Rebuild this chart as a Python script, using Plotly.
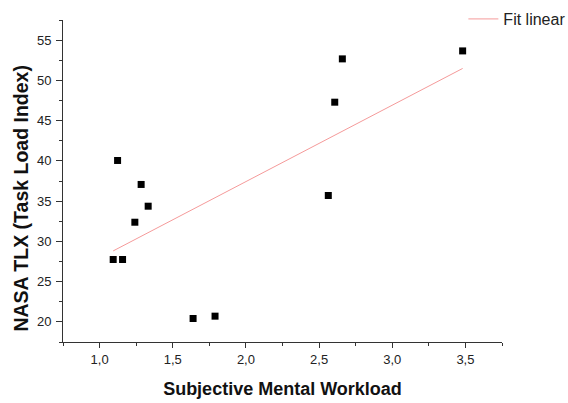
import numpy as np
import plotly.graph_objects as go

# Subjective mental workload vs. NASA TLX scores
workload = [1.093, 1.157, 1.123, 1.284, 1.332, 1.241, 1.639, 1.789, 2.563, 2.607, 2.659, 3.481]
tlx = [27.75, 27.75, 40.05, 37.07, 34.37, 32.38, 20.42, 20.71, 35.70, 47.29, 52.67, 53.66]

# Least-squares linear fit over the observed range
slope, intercept = np.polyfit(workload, tlx, 1)
fit_x = np.array([min(workload), max(workload)])
fit_y = slope * fit_x + intercept

fig = go.Figure()
fig.add_trace(go.Scatter(
    x=workload, y=tlx, mode="markers",
    marker=dict(symbol="square", size=7, color="black"),
    showlegend=False,
))
fig.add_trace(go.Scatter(
    x=fit_x, y=fit_y, mode="lines",
    line=dict(color="#f59a9a", width=1),
    name="Fit linear",
))

family = "Liberation Sans, Arial, sans-serif"
axis_font = dict(family=family, size=13, color="#222")

fig.update_layout(
    width=568, height=403,
    margin=dict(l=63, r=66, t=20, b=61, autoexpand=False),
    plot_bgcolor="white", paper_bgcolor="white",
    separators=",.",
    legend=dict(
        x=0.912, xanchor="left",
        yref="container", y=0.995, yanchor="top",
        bgcolor="rgba(0,0,0,0)",
        font=dict(family=family, size=16, color="#222"),
    ),
    xaxis=dict(
        range=[0.75, 3.75], showgrid=False, zeroline=False,
        showline=True, linecolor="#333", linewidth=1,
        ticks="outside", ticklen=5, tickcolor="#333",
        tick0=1.0, dtick=0.5, tickformat=".1f", tickfont=axis_font,
        minor=dict(ticks="outside", ticklen=3, tickcolor="#333", dtick=0.25, tick0=0.75),
        title=dict(text="<b>Subjective Mental Workload</b>",
                   font=dict(family=family, size=18, color="#111"), standoff=16),
    ),
    yaxis=dict(
        range=[17.5, 57.5], showgrid=False, zeroline=False,
        showline=True, linecolor="#333", linewidth=1,
        ticks="outside", ticklen=6, tickcolor="#333",
        tick0=20, dtick=5, tickfont=axis_font, ticklabelstandoff=2,
        minor=dict(ticks="outside", ticklen=3, tickcolor="#333", dtick=2.5, tick0=17.5),
    ),
    # Vertical axis title, set slightly below the plot's middle
    annotations=[dict(
        text="<b>NASA TLX (Task Load Index)</b>",
        xref="paper", yref="paper", x=-0.096, y=0.448,
        xanchor="center", yanchor="middle", textangle=-90, showarrow=False,
        font=dict(family=family, size=19.5, color="#111"),
    )],
)

fig.write_html("out.html")
